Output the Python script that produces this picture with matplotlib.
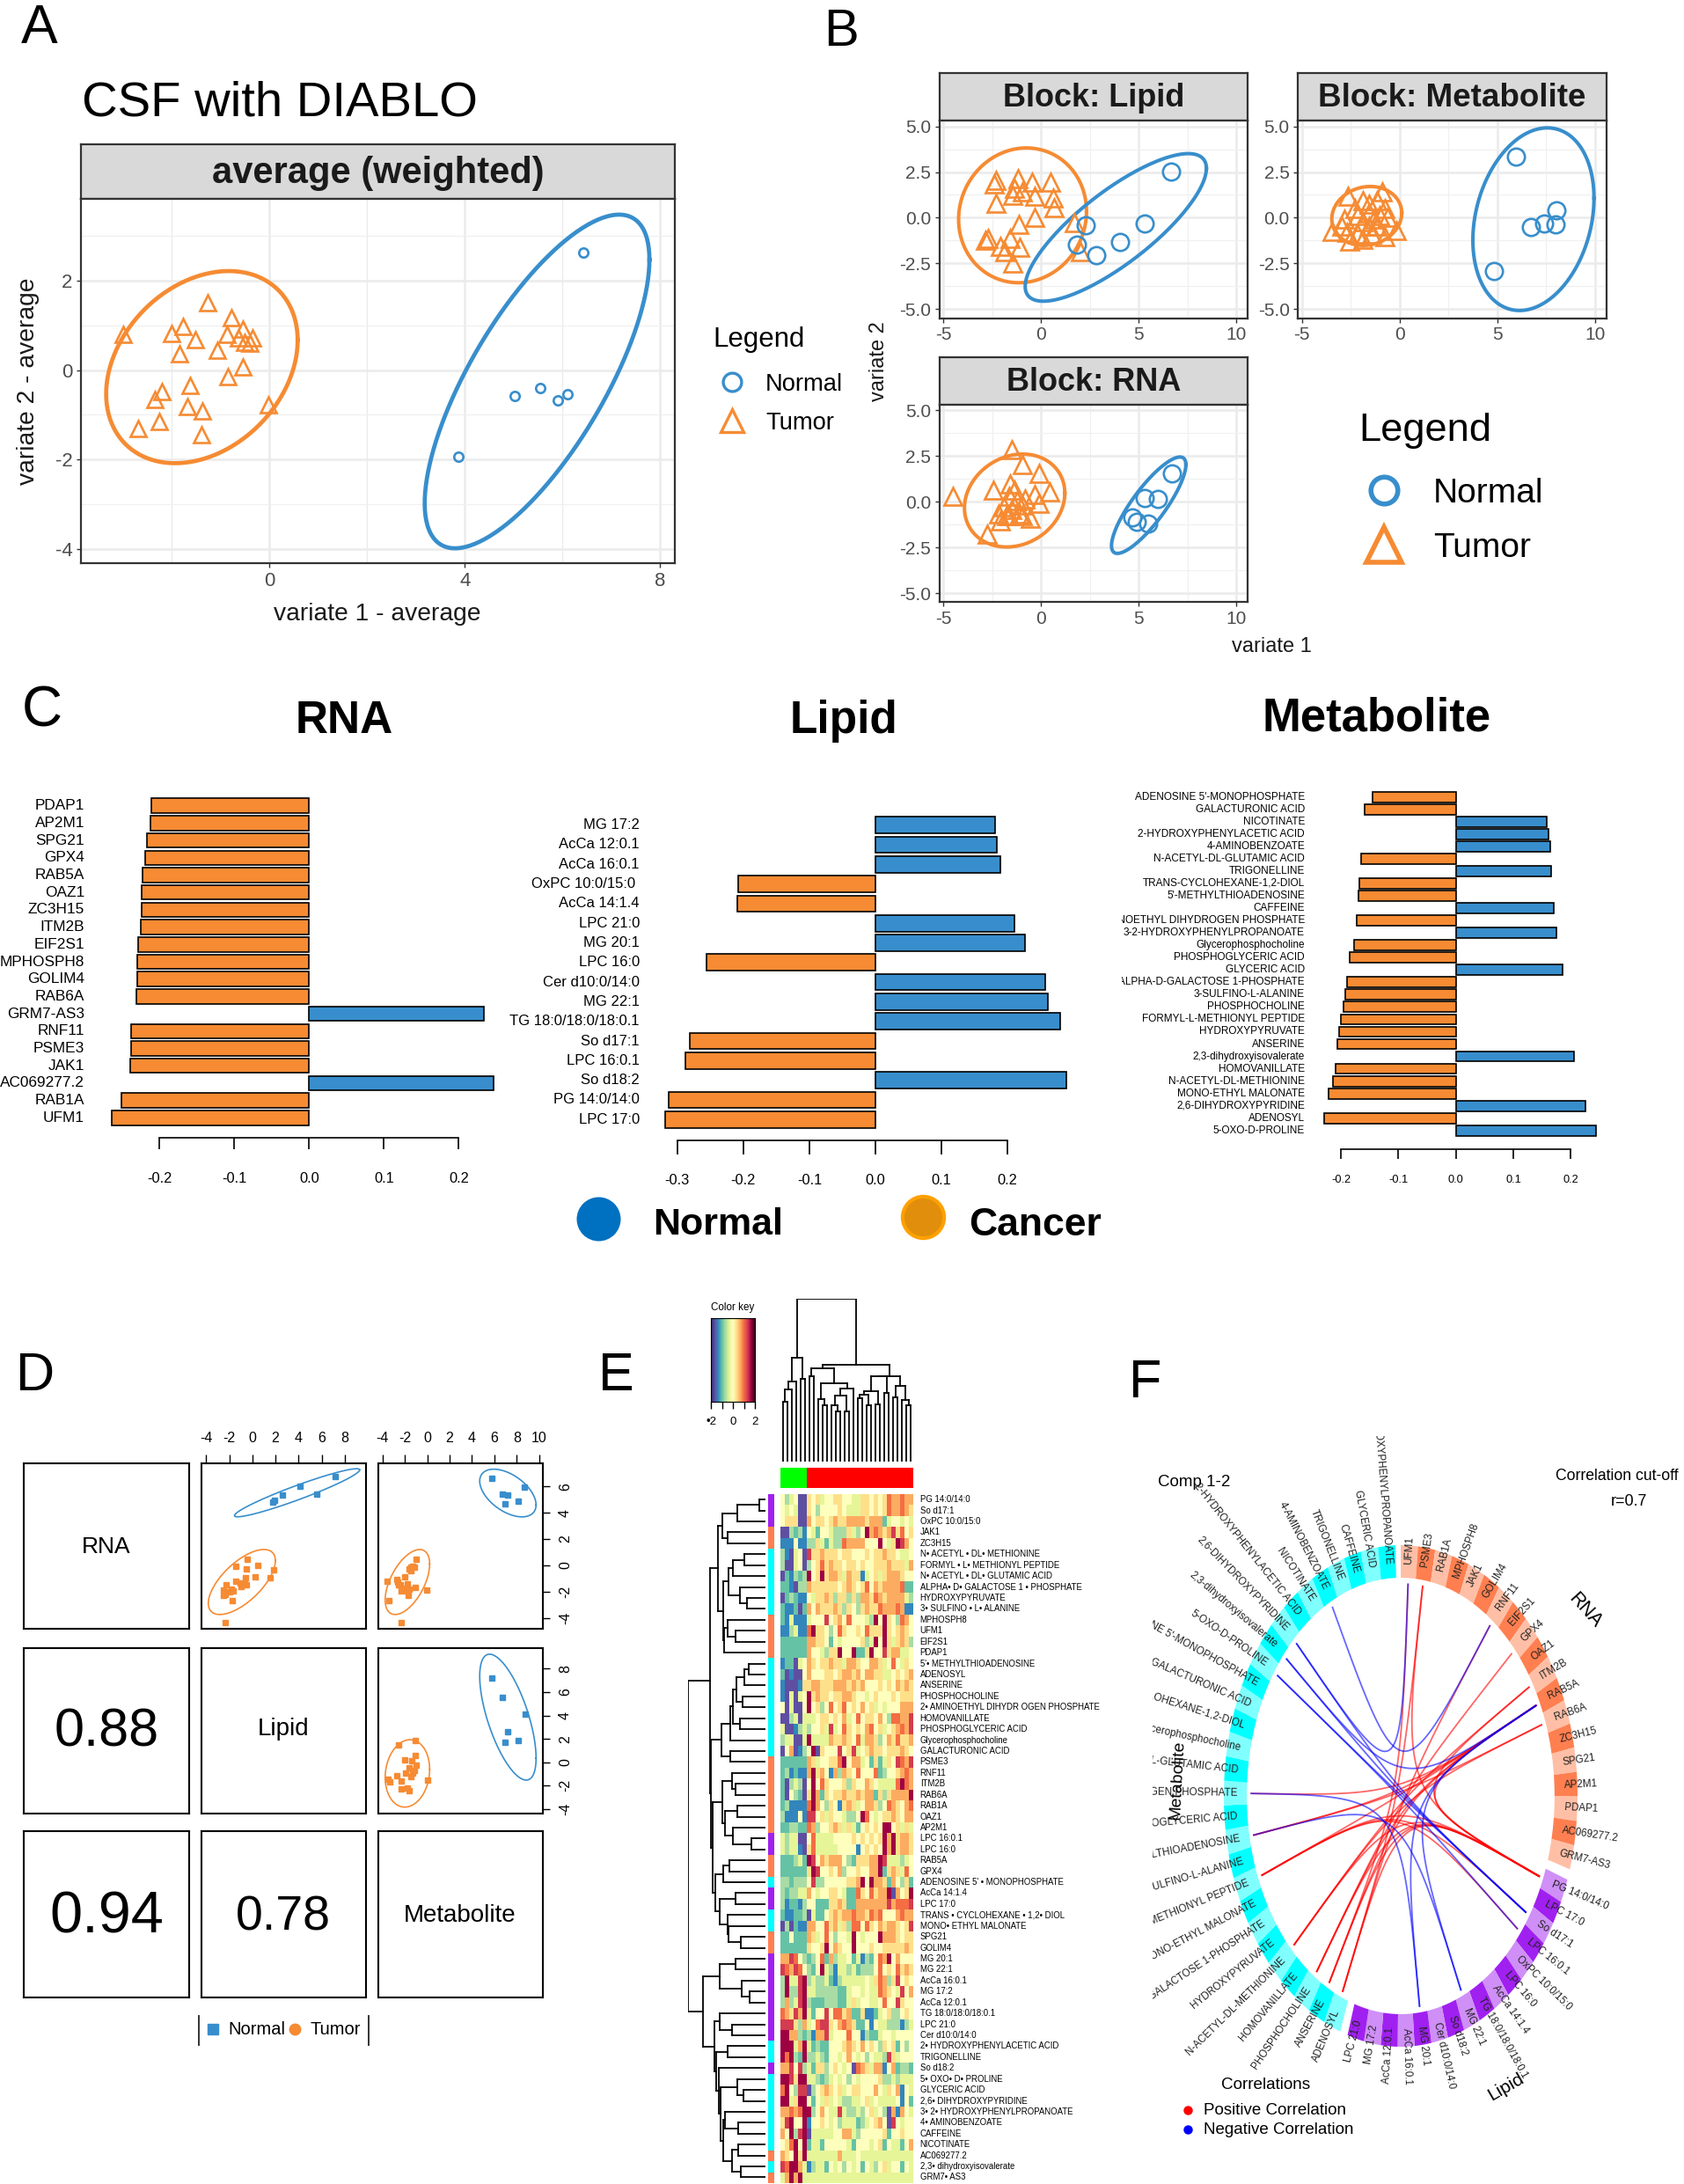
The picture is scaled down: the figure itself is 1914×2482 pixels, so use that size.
import numpy as np
import matplotlib
matplotlib.use("Agg")
import matplotlib.pyplot as plt
from matplotlib.colors import LinearSegmentedColormap, ListedColormap

plt.rcParams['font.family'] = ['Liberation Sans', 'DejaVu Sans']
plt.rcParams['axes.unicode_minus'] = False

W, H = 1915, 2482
BLUE = "#388ECC"
ORANGE = "#F68B33"

# ---------- panel A values
a_tumor_x = [-3.0,-1.27,-0.77,-1.77,-2.0,-1.52,-1.84,-1.07,-0.87,-0.55,-0.63,-0.35,-0.5,-0.39,-0.54,-0.84,-1.62,-2.2,-2.34,-0.02,-1.67,-1.37,-2.25,-2.68,-1.38]
a_tumor_y = [0.79,1.51,1.16,0.97,0.82,0.67,0.37,0.45,0.79,0.91,0.71,0.71,0.61,0.60,0.06,-0.14,-0.34,-0.48,-0.65,-0.78,-0.81,-0.92,-1.15,-1.30,-1.45]
a_normal_x = [6.42,5.02,5.55,5.9,6.1,3.87]
a_normal_y = [2.62,-0.58,-0.40,-0.68,-0.53,-1.94]
a_tumor_ell = (-1.38,0.065,1.96,2.145,0.28)
a_normal_ell = (5.48,-0.255,2.3,3.725,0.73)

# ---------- panel B values
lip_tumor_x = [-2.31,-2.39,-1.17,-0.47,0.5,-1.36,-1.44,-0.94,-0.31,0.64,0.67,-2.31,-0.33,-1.14,-2.72,-2.83,-1.58,-1.08,-2.06,-1.86,-1.47,1.69,2.03]
lip_tumor_y = [2.04,1.85,2.13,1.94,1.94,1.62,1.24,1.43,1.19,1.08,0.56,0.77,0.02,-0.35,-1.15,-1.24,-1.15,-1.62,-1.57,-1.85,-2.5,-0.26,-1.85]
lip_normal_x = [6.64,5.33,4.06,2.28,1.83,2.83]
lip_normal_y = [2.53,-0.30,-1.31,-0.40,-1.48,-2.04]
lip_tumor_ell = (-0.945,0.13,3.275,3.69,0.06)
lip_normal_ell = (3.83,-0.53,4.64,4.04,0.80)

met_tumor_x = [-2.64,-0.89,-1.17,-1.86,-2.28,-1.58,-0.75,-2.83,-2.14,-1.58,-1.03,-0.61,-1.86,-1.31,-0.19,-3.44,-2.69,-2.14,-1.44,-0.75,-2.56,-1.86,-1.17,-1.58,-2.97]
met_tumor_y = [1.19,1.43,0.96,0.96,0.49,0.73,0.49,-0.09,0.14,0.26,0.14,0.02,-0.21,-0.09,-0.68,-0.73,-0.80,-0.91,-0.91,-1.03,-1.26,-1.19,-0.44,-0.44,-0.44]
met_normal_x = [5.94,8.03,7.97,7.39,6.72,4.83]
met_normal_y = [3.33,0.40,-0.35,-0.33,-0.52,-2.93]
met_tumor_ell = (-1.68,0.095,1.79,1.615,0.1)
met_normal_ell = (6.85,-0.08,3.1,5.0,0.23)

rna_tumor_x = [-4.53,-1.5,-0.97,-0.11,0.44,-2.42,-1.58,-1.36,-0.31,-0.11,-0.94,-1.64,-1.92,-1.5,-2.19,-1.78,-1.08,-0.53,-2.06,-2.75,-0.81,-1.22,-1.64,-0.94]
rna_tumor_y = [0.28,2.83,2.04,1.52,0.52,0.63,0.98,0.63,0.40,-0.07,-0.19,0.28,-0.30,-0.42,-0.66,-0.77,-0.66,-0.89,-1.05,-1.76,0.16,0.05,-0.77,-0.77]
rna_normal_x = [6.72,5.31,5.97,4.67,4.89,5.5]
rna_normal_y = [1.55,0.21,0.16,-0.84,-1.10,-1.19]
rna_tumor_ell = (-1.35,0.06,2.57,2.54,0.16)
rna_normal_ell = (5.515,-0.195,1.905,2.635,0.84)

# ---------- panel C values
c_rna_labels = ["PDAP1","AP2M1","SPG21","GPX4","RAB5A","OAZ1","ZC3H15","ITM2B","EIF2S1","MPHOSPH8","GOLIM4","RAB6A","GRM7-AS3","RNF11","PSME3","JAK1","AC069277.2","RAB1A","UFM1"]
c_rna_values = [-.2107,-.212,-.2167,-.219,-.2233,-.2237,-.2242,-.2247,-.2288,-.2293,-.2298,-.2312,.234,-.2386,-.2386,-.2395,.2465,-.2516,-.2642]
c_lip_labels = ["MG 17:2","AcCa 12:0.1","AcCa 16:0.1","OxPC 10:0/15:0 ","AcCa 14:1.4","LPC 21:0","MG 20:1","LPC 16:0","Cer d10:0/14:0","MG 22:1","TG 18:0/18:0/18:0.1","So d17:1","LPC 16:0.1","So d18:2","PG 14:0/14:0","LPC 17:0"]
c_lip_values = [.1807,.1836,.1894,-.2079,-.2096,.2102,.2263,-.2558,.2569,.2615,.2794,-.2812,-.2881,.2893,-.3129,-.3176]
c_met_labels = ["ADENOSINE 5'-MONOPHOSPHATE","GALACTURONIC ACID","NICOTINATE","2-HYDROXYPHENYLACETIC ACID","4-AMINOBENZOATE","N-ACETYL-DL-GLUTAMIC ACID","TRIGONELLINE","TRANS-CYCLOHEXANE-1,2-DIOL","5'-METHYLTHIOADENOSINE","CAFFEINE","2-AMINOETHYL DIHYDROGEN PHOSPHATE","3-2-HYDROXYPHENYLPROPANOATE","Glycerophosphocholine","PHOSPHOGLYCERIC ACID","GLYCERIC ACID","ALPHA-D-GALACTOSE 1-PHOSPHATE","3-SULFINO-L-ALANINE","PHOSPHOCHOLINE","FORMYL-L-METHIONYL PEPTIDE","HYDROXYPYRUVATE","ANSERINE","2,3-dihydroxyisovalerate","HOMOVANILLATE","N-ACETYL-DL-METHIONINE","MONO-ETHYL MALONATE","2,6-DIHYDROXYPYRIDINE","ADENOSYL","5-OXO-D-PROLINE"]
c_met_values = [-.1455,-.158,.159,.161,.164,-.165,.166,-.1675,-.169,.170,-.172,.175,-.1766,-.185,.186,-.19,-.193,-.195,-.2,-.203,-.206,.206,-.209,-.2136,-.221,.226,-.229,.244]

# ---------- panel D values
d_x1_blue = [1.77,1.93,2.61,4.13,5.59,7.2]
d_y1_blue = [4.8,4.92,5.32,6.03,5.42,6.74]
d_x1_or = [-2.39,-2.48,-2.27,-2.33,-1.8,-1.43,-1.09,-1.4,-.47,-.5,-.62,-.71,-.96,-.5,.22,.43,1.55,1.86,-1.74,-2.48,-1.96,-1.65]
d_y1_or = [-4.37,-1.88,-1.51,-2.22,-1.82,-1.2,-1.35,-.06,.49,-.28,-.98,-1.42,-1.6,-1.51,-.89,-.03,-.98,-.37,-2.68,-2.28,-2.03,-1.97]
d_x2_blue = [5.8,6.67,7.21,8.14,6.92,8.69]
d_y2_blue = [6.65,5.42,5.35,4.89,4.65,5.94]
d_x2_or = [-2.28,-3.4,-3.56,-2.63,-2.02,-2.4,-1.76,-1.6,-1.67,-2.31,-1.06,-.06,-1.44,-1.28,-1.12,-.96,-1.6,-1.76,-2.72,-2.56,-1.92,-1.44]
d_y2_or = [-4.37,-2.68,-1.2,-1.29,-.89,-1.51,-1.42,-1.82,-2.28,-1.97,-1.66,-1.91,-.43,-.06,-.12,.49,-.28,-1.97,-1.05,-1.51,-1.72,-.12]
d_x3_blue = [5.8,6.67,8.72,7.21,6.92,8.14]
d_y3_blue = [7.24,5.55,4.14,2.62,1.69,1.86]
d_x3_or = [-2.56,-1.03,-2.02,-1.03,-1.35,-1.6,-.96,-2.72,-3.53,-3.37,0,-2.31,-2.31,-1.6,-1.76,-1.44,-1.92,-1.28,-1.12]
d_y3_or = [1.52,1.86,.21,.55,.14,-.48,-.28,-1.17,-1.41,-1.66,-1.52,-1.59,-2.28,-2.45,-2.21,-1.24,-.9,-.9,-.72]
d_ell1_or = (-.915,-1.275,2.905,2.475,.656)
d_ell1_blue = (3.87,5.52,5.42,1.83,.95)
d_ell2_or = (-1.765,-1.275,1.985,2.475,.55)
d_ell2_blue = (7.2,5.5,2.515,1.815,-.5)
d_ell3_or = (-1.765,-.95,1.985,2.88,.12)
d_ell3_blue = (7.2,3.86,2.515,5.38,-.65)

# ---------- panel E values (letters a..k = -2..2 in 0.4 steps, read by eye)
heat_labels = ["PG 14:0/14:0","So d17:1","OxPC 10:0/15:0","JAK1","ZC3H15","N• ACETYL • DL• METHIONINE","FORMYL • L• METHIONYL PEPTIDE","N• ACETYL • DL• GLUTAMIC ACID","ALPHA• D• GALACTOSE 1 • PHOSPHATE","HYDROXYPYRUVATE","3• SULFINO • L• ALANINE","MPHOSPH8","UFM1","EIF2S1","PDAP1","5'• METHYLTHIOADENOSINE","ADENOSYL","ANSERINE","PHOSPHOCHOLINE","2• AMINOETHYL DIHYDR OGEN PHOSPHATE","HOMOVANILLATE","PHOSPHOGLYCERIC ACID","Glycerophosphocholine","GALACTURONIC ACID","PSME3","RNF11","ITM2B","RAB6A","RAB1A","OAZ1","AP2M1","LPC 16:0.1","LPC 16:0","RAB5A","GPX4","ADENOSINE 5' • MONOPHOSPHATE","AcCa 14:1.4","LPC 17:0","TRANS • CYCLOHEXANE • 1,2• DIOL","MONO• ETHYL MALONATE","SPG21","GOLIM4","MG 20:1","MG 22:1","AcCa 16:0.1","MG 17:2","AcCa 12:0.1","TG 18:0/18:0/18:0.1","LPC 21:0","Cer d10:0/14:0","2• HYDROXYPHENYLACETIC ACID","TRIGONELLINE","So d18:2","5• OXO• D• PROLINE","GLYCERIC ACID","2,6• DIHYDROXYPYRIDINE","3• 2• HYDROXYPHENYLPROPANOATE","4• AMINOBENZOATE","CAFFEINE","NICOTINATE","AC069277.2","2,3• dihydroxyisovalerate","GRM7• AS3"]
heat_rows = [
"fdefaagfgeffggffeeggfgfgihhihh","fefeaagfdffffgfeeeggfgfgihhihg","fgggaahfggfghgghhhhghhhceffefe","aadcdbfecffedddgedfkhihghjgifg",
"bbbfbbddgeceddihhhhfffkfegkjhf","dbaefajgghgggfggfffgfgghggfeef","daaefadfgighggfggfgffggghgggeh","acbdcdkfgkghhgehggbefgeghhhgff",
"ccbaddhggggggfghgfgifhghhhhicc","acdcbbfegghgdggdgdhhgihghhhhed","cbbcachfhggghgdgfdghggihhhihbb","cbebbbefffjfghfifffedkfkgfdihf",
"bbdebbikggfdfigffgfigggkgfghgf","cccccchhggfcfeffffgdekfkgeghgd","cccccchffedggkffkccgkffjghheef","bccaefhgfgghggehhgffhhgefifegf",
"cabaafhfffggfghhghfhhggeefgfgh","baaabgghhggghhhghghfffgfgfhghg","baeaefkghggfgghhgffefgfffgfggg","faeaafkfgdfifgifgfhfgefefffhhh",
"aadeaeeefggfgfhefifggfhfdiihhj","eaabdedffgejefigfgfhifgefghihj","deeaaekeeeehgghgfiehhgdfhgiggh","afhabdfkagfffjfgjefghggfggghgf",
"cccccchgeffggikfhhefcgcegfjihj","cdbcbbhkghfbhdhgfiffficdffghih","cadedafkfigfffgdgffhgfeeeeikih","cafdcagkhcgfgghgghghhcgdghhhhk",
"cdbbbbikhfdgfbghgefhhgdfihgfhi","dbbbfbjjfgegffeddfkifefgghgfhh","ccddccihdffghgegecfgfgfkkfgege","edeeaafieeeeffffgfgfgfgkhkghhg",
"edeebagieeeeeffffbfgfgfkhkghhg","cccdeckjfhghhhfdcggghhkjeeedef","ccccccgkjffgfhdffgffhhkcghgeif","ddcdddfjddfffffgghkfkhhgchfdgc",
"dcddeehfeffggfeccigfighhkahfgk","dbccbdffcccgghgcchhhhhhhjhiiij","cbbccdaeccfghghhihhgihifffhihh","adacbbhhffighegdiifigfhghhgfgj",
"ccfccchgefifdffekfefffkhhhgfgg","ccccccgffgkfhgffkfffgffggggghg","hhjifdcdfichdeefcebdcfihkfhfff","jihjifdcfkedbeedecdddfifgfighg",
"dkeejkdeddecbdeeeeefegihdgjfgf","dkddjkeedddddcceffefeeihgfejfh","dhdejkdcccdddccegeffeefiffjgff","ihgjhkecffjfiighccgbbcefgddfgf",
"jjjgdhefijjgfhihgccfbfeedddbde","kkhhdcdbhhjefffiffbdcceffeffff","kkkehkecdccfffghgfhfgfdgfgcfdf","kikdckddedcffefhfefdfeedjgefff",
"hhjfjdecggdfgfefaihgehhbfhcddc","kkjgkkeedcdefefdfeffffgddedeee","ikfdjjadfghgfgefggfffhfegfhbfe","kkegkkfcfegefeddeefgefeeeefbfc",
"hhihikkdfhfeejeddedfgefdahbhfe","gjkffkbffgfefdeeecdefghfajfeff","hfkdjkaeeeeeffhhedfffffgcffgff","fgikfkceecfffffecfffefgcfeecfh",
"hgfkgkeeeeeeeheeefeeeeeeeeeeee","jikkhebdeecfefdfefcfedfgeffcfe","ehkhkeeeeeeeeeeeeeeeeeeeeeeeee"]
heat_blocks = "LLLRRMMMMMMRRRRMMMMMMMMMRRRRRRRLLRRMLLMMRRLLLLLLLLMMLMMMMMMMRMR"
col_groups = ["Normal"]*6 + ["Tumor"]*24

# column dendrogram, nodes are (left, right, height)
col_a1 = (((0,1,.365),2,.44),3,.493)
col_a = (col_a1,(4,5,.507),.638)
col_b1 = ((8,(9,10,.347),.385),(((11,(12,13,.308),.344),(14,15,.308),.405),16,.45),.48)
col_b2 = ((6,7,.522),col_b1,.57)
col_n1 = ((17,18,.387),(19,20,.347),.41)
col_n2 = (col_n1,(21,22,.351),.433)
col_n3 = (col_n2,(23,24,.423),.522)
col_n4 = ((25,26,.392),(27,(28,29,.347),.378),.464)
col_b3 = (col_n3,col_n4,.525)
col_b = (col_b2,col_b3,.592)
col_tree = (col_a,col_b,1.0)

# row dendrogram
r_a = (((0,1,.075),2,.358),(3,4,.483),.558)
r_b = (((5,6,.27),7,.415),(8,(9,10,.234),.328),.479),((11,(12,13,.389),.483),14,.536),.54
r_top = (r_a,r_b,.615)
r_c1 = (((15,16,.211),17,.272),(18,19,.294),.374)
r_c = (((r_c1,(20,21,.328),.415),22,.453),(23,24,.453),.562)
r_d = ((25,(26,27,.389),.434),((28,29,.366),(30,(31,32,.181),.415),.517),.558)
r_e = (((33,34,.464),35,.54),((36,37,.389),(38,(39,(40,41,.321),.472),.483),.592),.642)
r_f = (r_d,r_e,.679)
r_mid = (r_c,r_f,.70)
r_up = (r_top,r_mid,.717)
r_g = ((42,43,.385),(44,(45,46,.2),.309),.592)
r_h = (47,(48,49,.426),.592)
r_i = ((53,(54,55,.283),.358),((56,(57,58,.351),.517),((59,60,.351),(61,62,.313),.434),.547),.577)
r_j = ((50,51,.49),(52,r_i,.60),.63)
r_k = (r_h,r_j,.653)
r_low = (r_g,r_k,.8)
row_tree = (r_up,r_low,1.0)

# ---------- panel F values
f_rna = ["UFM1","PSME3","RAB1A","MPHOSPH8","JAK1","GOLIM4","RNF11","EIF2S1","GPX4","OAZ1","ITM2B","RAB5A","RAB6A","ZC3H15","SPG21","AP2M1","PDAP1","AC069277.2","GRM7-AS3"]
f_lipid = ["PG 14:0/14:0","LPC 17:0","So d17:1","LPC 16:0.1","OxPC 10:0/15:0","LPC 16:0","AcCa 14:1.4","TG 18:0/18:0/18:0.1","MG 22:1","So d18:2","Cer d10:0/14:0","MG 20:1","AcCa 16:0.1","AcCa 12:0.1","MG 17:2","LPC 21:0"]
f_met = ["ADENOSYL","ANSERINE","PHOSPHOCHOLINE","HOMOVANILLATE","N-ACETYL-DL-METHIONINE","HYDROXYPYRUVATE","ALPHA-D-GALACTOSE 1-PHOSPHATE","MONO-ETHYL MALONATE","FORMYL-L-METHIONYL PEPTIDE","3-SULFINO-L-ALANINE","5'-METHYLTHIOADENOSINE","PHOSPHOGLYCERIC ACID","2-AMINOETHYL DIHYDROGEN PHOSPHATE","N-ACETYL-DL-GLUTAMIC ACID","Glycerophosphocholine","TRANS-CYCLOHEXANE-1,2-DIOL","GALACTURONIC ACID","ADENOSINE 5'-MONOPHOSPHATE","5-OXO-D-PROLINE","2,3-dihydroxyisovalerate","2,6-DIHYDROXYPYRIDINE","2-HYDROXYPHENYLACETIC ACID","NICOTINATE","4-AMINOBENZOATE","TRIGONELLINE","CAFFEINE","GLYCERIC ACID","3-2-HYDROXYPHENYLPROPANOATE"]
f_neg = [("4-AMINOBENZOATE","RNF11"),("2,6-DIHYDROXYPYRIDINE","UFM1"),("2,3-dihydroxyisovalerate","RAB5A"),("2,3-dihydroxyisovalerate","So d17:1"),
         ("5-OXO-D-PROLINE","So d17:1"),("5-OXO-D-PROLINE","LPC 16:0.1"),("2,6-DIHYDROXYPYRIDINE","So d17:1"),("2-AMINOETHYL DIHYDROGEN PHOSPHATE","MG 20:1"),
         ("5'-METHYLTHIOADENOSINE","MG 22:1"),("RAB5A","MG 22:1"),("RAB5A","MG 20:1")]
f_pos = [("ADENOSYL","PSME3"),("ADENOSYL","RNF11"),("ANSERINE","UFM1"),("ANSERINE","RAB5A"),("PHOSPHOCHOLINE","RAB5A"),("PHOSPHOCHOLINE","GPX4"),
         ("N-ACETYL-DL-METHIONINE","RAB6A"),("N-ACETYL-DL-METHIONINE","ITM2B"),("FORMYL-L-METHIONYL PEPTIDE","PG 14:0/14:0"),("FORMYL-L-METHIONYL PEPTIDE","RAB5A"),
         ("2-AMINOETHYL DIHYDROGEN PHOSPHATE","RAB5A"),("5'-METHYLTHIOADENOSINE","RAB6A"),("5'-METHYLTHIOADENOSINE","RAB5A"),("So d17:1","FORMYL-L-METHIONYL PEPTIDE"),
         ("LPC 16:0.1","FORMYL-L-METHIONYL PEPTIDE"),("PG 14:0/14:0","N-ACETYL-DL-METHIONINE"),("PG 14:0/14:0","RAB5A"),("PG 14:0/14:0","ITM2B"),
         ("PG 14:0/14:0","ADENOSYL"),("PG 14:0/14:0","PHOSPHOCHOLINE"),("PG 14:0/14:0","ANSERINE"),("PG 14:0/14:0","PSME3")]


fig = plt.figure(figsize=(W/100, H/100), dpi=100, facecolor="white")


def px_ax(l, t, r, b, **kw):
    return fig.add_axes([l/W, 1-b/H, (r-l)/W, (b-t)/H], **kw)


def ell_xy(e):
    cx, cy, rx, ry, rho = e
    t = np.linspace(0, 2*np.pi, 240)
    return cx + rx*np.cos(t), cy + ry*np.cos(t - np.arccos(rho))


ov = px_ax(0, 0, W, H, zorder=20)
ov.set_xlim(0, W)
ov.set_ylim(H, 0)
ov.axis("off")


def txt(x, y, s, size, **kw):
    kw.setdefault("ha", "center")
    kw.setdefault("va", "center")
    # bbox centring sits a little high against the reference, more so for big text
    if "rotation" not in kw:
        y = y + 1.5 + size*.09
    ov.text(x, y, s, fontsize=size, **kw)


def facet(box, strip_top, title, tsize, xlim, ylim, xmaj, xmin, ymaj, ymin, ylabs, tick_size):
    l, t, r, b = box
    st = px_ax(l, strip_top, r, t, facecolor="#d9d9d9")
    st.set_xticks([])
    st.set_yticks([])
    st.text(.5, .47, title, fontsize=tsize, fontweight="bold", color="#1a1a1a", ha="center", va="center", transform=st.transAxes)
    ax = px_ax(l, t, r, b)
    ax.set_xlim(xlim)
    ax.set_ylim(ylim)
    ax.set_xticks(xmaj)
    ax.set_xticks(xmin, minor=True)
    ax.set_yticks(ymaj)
    ax.set_yticks(ymin, minor=True)
    ax.set_yticklabels(ylabs)
    ax.grid(which="major", color="#ebebeb", lw=1.8)
    ax.grid(which="minor", color="#f0f0f0", lw=.9)
    ax.set_axisbelow(True)
    ax.tick_params(which="minor", length=0)
    ax.tick_params(which="major", length=3.5, width=1, color="#333333", labelsize=tick_size, labelcolor="#4d4d4d", pad=3.5)
    for a in (st, ax):
        for s in a.spines.values():
            s.set_color("#333333")
            s.set_linewidth(1.6)
    return ax


def scat(ax, tx, ty, nx, ny, te, ne, tms, nms, lw):
    ax.plot(*ell_xy(te), color=ORANGE, lw=lw)
    ax.plot(*ell_xy(ne), color=BLUE, lw=lw)
    ax.plot(tx, ty, "^", mfc="none", mec=ORANGE, mew=1.9, ms=tms, ls="none")
    ax.plot(nx, ny, "o", mfc="none", mec=BLUE, mew=1.9, ms=nms, ls="none")


# panel A
ax = facet((92, 225.6, 767, 640.4), 163.8, "average (weighted)", 30, (-3.856, 8.3), (-4.32, 3.83),
           [0, 4, 8], [-2, 2, 6], [-4, -2, 0, 2], [-3, -1, 1, 3], ["-4", "-2", "0", "2"], 16)
ax.grid(which="minor", axis="x", color="#ebebeb", lw=1)
scat(ax, a_tumor_x, a_tumor_y, a_normal_x, a_normal_y, a_tumor_ell, a_normal_ell, 13, 7.5, 3.4)
txt(45, 27, "A", 45)
txt(93, 112, "CSF with DIABLO", 40.5, ha="left")
txt(429, 695, "variate 1 - average", 20.3, color="#1a1a1a")
txt(32, 433, "variate 2 - average", 20.3, rotation=90, color="#1a1a1a")
txt(810, 382, "Legend", 22.5, ha="left")
txt(870, 434, "Normal", 19.7, ha="left")
txt(870, 478, "Tumor", 19.7, ha="left")
ov.plot([832], [434], "o", mfc="none", mec=BLUE, mew=2.4, ms=15)
ov.plot([832], [478], "^", mfc="none", mec=ORANGE, mew=2.4, ms=19)

# panel B
bx_lab = ["5.0", "2.5", "0.0", "-2.5", "-5.0"]
b_ymaj = [5, 2.5, 0, -2.5, -5]
b_ymin = [3.75, 1.25, -1.25, -3.75]
b_xlim = (-5.19, 10.58)
b_ylim = (-5.5, 5.32)
ax = facet((1068, 137, 1418, 361.6), 82.9, "Block: Lipid", 26, b_xlim, b_ylim, [-5, 0, 5, 10], [-2.5, 2.5, 7.5], b_ymaj, b_ymin, bx_lab, 15)
scat(ax, lip_tumor_x, lip_tumor_y, lip_normal_x, lip_normal_y, lip_tumor_ell, lip_normal_ell, 15, 14, 2.9)
ax = facet((1475.5, 137, 1825.7, 361.6), 82.9, "Block: Metabolite", 26.5, b_xlim, b_ylim, [-5, 0, 5, 10], [-2.5, 2.5, 7.5], b_ymaj, b_ymin, bx_lab, 15)
scat(ax, met_tumor_x, met_tumor_y, met_normal_x, met_normal_y, met_tumor_ell, met_normal_ell, 15, 14, 2.9)
ax = facet((1068, 459.5, 1418, 684.4), 406, "Block: RNA", 26, b_xlim, b_ylim, [-5, 0, 5, 10], [-2.5, 2.5, 7.5], b_ymaj, b_ymin, bx_lab, 15)
scat(ax, rna_tumor_x, rna_tumor_y, rna_normal_x, rna_normal_y, rna_tumor_ell, rna_normal_ell, 15, 14, 2.9)
txt(956, 31, "B", 43)
txt(999, 411, "variate 2", 17, rotation=90, color="#1a1a1a")
txt(1445.6, 732, "variate 1", 17, color="#1a1a1a")
txt(1544, 485, "Legend", 32.6, ha="left")
txt(1629, 557, "Normal", 28, ha="left")
txt(1629, 619, "Tumor", 28, ha="left")
ov.plot([1573], [557], "o", mfc="none", mec=BLUE, mew=4, ms=22)
ov.plot([1573], [619], "^", mfc="none", mec=ORANGE, mew=4, ms=29)


# panel C
def bars(box, x0, scale, y0, dy, labels, values, lab_px, ticks, fsize, tsize, tick_len, pad, edge):
    l, t, r, b = box
    ax = px_ax(l, t, r, b, facecolor="none")
    ax.set_xlim((l-x0)/scale, (r-x0)/scale)
    ax.set_ylim((b-y0)/dy, (t-y0)/dy)
    ypos = np.arange(len(values))
    cols = [BLUE if v > 0 else ORANGE for v in values]
    ax.barh(ypos, values, height=.84, color=cols, edgecolor="black", linewidth=edge)
    for i, lab in enumerate(labels):
        ax.text((lab_px-x0)/scale, i, lab, fontsize=fsize, ha="right", va="center", clip_on=True)
    for s in ("top", "left", "right"):
        ax.spines[s].set_visible(False)
    ax.spines["bottom"].set_bounds(ticks[0], ticks[-1])
    ax.spines["bottom"].set_linewidth(1.2)
    ax.set_yticks([])
    ax.set_xticks(ticks)
    ax.set_xticklabels(["%.1f" % v for v in ticks])
    ax.tick_params(axis="x", length=tick_len, width=1.2, labelsize=tsize, pad=pad)


bars((0, 900, 620, 1293), 351.4, 850, 915.7, 19.7, c_rna_labels, c_rna_values, 96, [-.2, -.1, 0, .1, .2], 12.4, 11.8, 9.4, 19, 1.2)
bars((560, 920, 1270, 1295.7), 995, 751, 937.7, 22.3, c_lip_labels, c_lip_values, 727, [-.3, -.2, -.1, 0, .1, .2], 12, 11.8, 11.5, 16, 1.2)
bars((1275.4, 895, 1915, 1306), 1654.6, 653, 905.7, 14.04, c_met_labels, c_met_values, 1483, [-.2, -.1, 0, .1, .2], 8.5, 9.2, 7.7, 13, 1.2)
txt(48, 803, "C", 46)
txt(391, 815, "RNA", 37, fontweight="bold")
txt(959, 815, "Lipid", 37, fontweight="bold")
txt(1565, 812, "Metabolite", 38, fontweight="bold")
ov.plot([679.6], [1385], "o", color="#0070C0", ms=36, mew=0)
ov.plot([1049], [1383], "o", mfc="#E08E0B", mec="#FFA000", mew=3, ms=34)
txt(742, 1388, "Normal", 31, fontweight="bold", ha="left")
txt(1101, 1388, "Cancer", 32, fontweight="bold", ha="left")


# panel D
d_cols = [(27.3, 215), (229, 416), (430, 617)]
d_rows = [(1662.7, 1850.5), (1873, 2061), (2081, 2269.7)]
d_axes = {}
for ri, (t, b) in enumerate(d_rows):
    for ci, (l, r) in enumerate(d_cols):
        a = px_ax(l, t, r, b)
        a.set_xticks([])
        a.set_yticks([])
        for s in a.spines.values():
            s.set_linewidth(1.5)
        d_axes[(ri, ci)] = a
d_sets = [((0, 1), d_x1_blue, d_y1_blue, d_x1_or, d_y1_or, d_ell1_blue, d_ell1_or, (-4.41, 9.84), (-4.8, 7.78)),
          ((0, 2), d_x2_blue, d_y2_blue, d_x2_or, d_y2_or, d_ell2_blue, d_ell2_or, (-4.36, 10.32), (-4.8, 7.78)),
          ((1, 2), d_x3_blue, d_y3_blue, d_x3_or, d_y3_or, d_ell3_blue, d_ell3_or, (-4.36, 10.32), (-4.38, 9.76))]
for key, xb, yb, xo, yo, eb, eo, xl, yl in d_sets:
    a = d_axes[key]
    a.plot(*ell_xy(eb), color=BLUE, lw=1.2)
    a.plot(*ell_xy(eo), color=ORANGE, lw=1.2)
    a.plot(xb, yb, "s", color=BLUE, ms=3.8, ls="none", clip_on=False)
    a.plot(xo, yo, "s", color=ORANGE, ms=3.8, ls="none", clip_on=False)
    a.set_xlim(xl)
    a.set_ylim(yl)
    if key[0] == 0:
        a.xaxis.tick_top()
        a.set_xticks([-4, -2, 0, 2, 4, 6, 8] if key[1] == 1 else [-4, -2, 0, 2, 4, 6, 8, 10])
        a.tick_params(axis="x", length=7, width=1, labelsize=11.5, pad=8)
    if key[1] == 2:
        a.yaxis.tick_right()
        a.set_yticks([-4, -2, 0, 2, 4, 6] if key[0] == 0 else [-4, -2, 0, 2, 4, 6, 8])
        a.tick_params(axis="y", length=6, width=1, labelsize=11.5, pad=7, labelrotation=90)
        for lb in a.get_yticklabels():
            lb.set_va("center")
txt(40, 1559, "D", 44)
txt(121, 1755, "RNA", 19, color="black")
txt(322, 1962, "Lipid", 20)
txt(523, 2174, "Metabolite", 20)
txt(121, 1964, "0.88", 44)
txt(121, 2174, "0.94", 48)
txt(322, 2174, "0.78", 40)
ov.plot([225.7, 225.7], [2291, 2324], color="#333333", lw=1.4)
ov.plot([419, 419], [2291, 2324], color="#333333", lw=1.4)
ov.plot([242.4], [2306], "s", color=BLUE, ms=8)
ov.plot([335], [2306], "o", color=ORANGE, ms=9)
txt(259, 2304, "Normal", 14.5, ha="left")
txt(352.6, 2304, "Tumor", 14.5, ha="left")

# panel E
letters = "abcdefghijk"
heat_vals = np.array([[(letters.index(c)-5)*.4 for c in r[:30].ljust(30, "f")] for r in heat_rows])
ax = px_ax(887, 1698, 1037.7, 2480.7)
ax.imshow(heat_vals, cmap="Spectral_r", vmin=-2, vmax=2, aspect="auto", interpolation="nearest")
ax.axis("off")
for i, lab in enumerate(heat_labels):
    ax.text(31.1, i, lab, fontsize=6.9, ha="left", va="center", clip_on=False)

ax = px_ax(887, 1668, 1037.7, 1690.7)
ax.imshow([[0 if g == "Normal" else 1 for g in col_groups]], cmap=ListedColormap(["#00ff00", "#ff0000"]), aspect="auto", interpolation="nearest")
ax.axis("off")

block_idx = {"L": 0, "M": 1, "R": 2}
ax = px_ax(873, 1698, 879.5, 2480.7)
ax.imshow([[block_idx[b]] for b in heat_blocks], cmap=ListedColormap(["#A020F0", "#00FFFF", "#FF7F50"]), aspect="auto", interpolation="nearest")
ax.axis("off")


def dend(node, segs):
    if not isinstance(node, tuple):
        return float(node), 0.0
    lp, lh = dend(node[0], segs)
    rp, rh = dend(node[1], segs)
    h = node[2]
    segs.append((lp, lh, lp, h))
    segs.append((rp, rh, rp, h))
    segs.append((lp, h, rp, h))
    return (lp+rp)/2, h


segs = []
dend(col_tree, segs)
ax = px_ax(887, 1475.7, 1037.7, 1661)
for p0, h0, p1, h1 in segs:
    ax.plot([p0, p1], [h0, h1], color="black", lw=1.3, solid_capstyle="projecting")
ax.set_xlim(-.5, 29.5)
ax.set_ylim(0, 1)
ax.axis("off")

segs = []
dend(row_tree, segs)
ax = px_ax(781.7, 1698, 870, 2480.7)
for p0, h0, p1, h1 in segs:
    ax.plot([h0, h1], [p0, p1], color="black", lw=1.3, solid_capstyle="projecting")
ax.set_ylim(62.5, -.5)
ax.set_xlim(1, 0)
ax.axis("off")

key_cmap = LinearSegmentedColormap.from_list("key", ["#2a2a6e", "#5e4fa2", "#3288bd", "#66c2a5", "#abdda4", "#e6f598", "#ffffbf", "#fee08b", "#fdae61", "#f46d43", "#d53e4f", "#9e0142", "#3a0020"])
ax = px_ax(808.3, 1498, 858, 1593)
ax.imshow([np.linspace(-2, 2, 256)], cmap=key_cmap, aspect="auto", extent=(-2, 2, 0, 1))
ax.set_yticks([])
ax.set_xticks([-2, -1, 0, 1, 2])
ax.set_xticklabels(["•2", "", "0", "", "2"])
ax.tick_params(axis="x", length=5.5, width=1, labelsize=9.5, pad=7)
txt(832.7, 1484, "Color key", 8.4)
txt(700, 1559, "E", 44)

# panel F
ax_f = px_ax(1310, 1632, 1915, 2482, facecolor="none", zorder=5)
ax_f.set_xlim(-1.403, 1.607)
ax_f.set_ylim((2041-2482)/285, (2041-1632)/285)
ax_f.axis("off")
f_blocks = [(f_rna, 90, -17, "#FF7F50", "#FFBFA6"),
            (f_lipid, -19.5, -107.5, "#A020F0", "#CF8FF7"),
            (f_met, -110, -268.3, "#00FFFF", "#80FFFF")]
f_angle = {}
for names, start, end, dark, light in f_blocks:
    step = (end-start)/len(names)
    for i, name in enumerate(names):
        a0, a1 = start+i*step, start+(i+1)*step
        tt = np.radians(np.linspace(a0, a1, 12))
        xs = np.r_[np.cos(tt), .87*np.cos(tt[::-1])]
        ys = np.r_[np.sin(tt), .87*np.sin(tt[::-1])]
        col = light if i % 2 == 0 else dark
        ax_f.fill(xs, ys, color=col, lw=0, zorder=1)
        mid = (a0+a1)/2
        f_angle[name] = mid
        rad = np.radians(mid)
        c = np.cos(rad)
        if c >= 0:
            ax_f.text(.925*c, .925*np.sin(rad), name, fontsize=8.4, rotation=mid, rotation_mode="anchor", ha="left", va="center", clip_on=True, color="#222222", zorder=3)
        else:
            ax_f.text(.925*c, .925*np.sin(rad), name, fontsize=8.4, rotation=mid+180, rotation_mode="anchor", ha="right", va="center", clip_on=True, color="#222222", zorder=3)


def link(a, b, col):
    ra, rb = np.radians(f_angle[a]), np.radians(f_angle[b])
    s = np.linspace(0, 1, 80)
    # both control points at the centre, so the ribbons bunch up in the middle
    x = (1-s)**3*.845*np.cos(ra) + s**3*.845*np.cos(rb)
    y = (1-s)**3*.845*np.sin(ra) + s**3*.845*np.sin(rb)
    ax_f.plot(x, y, color=col, lw=1.3, alpha=.6, zorder=2)


for a, b in f_pos:
    link(a, b, "#ff0000")
for a, b in f_neg:
    link(a, b, "#0000ff")

txt(1302, 1567, "F", 44)
txt(1316.5, 1682, "Comp 1-2", 13.5, ha="left")
txt(1838, 1675, "Correlation cut-off", 12.7)
txt(1851, 1704, "r=0.7", 13)
txt(1802, 1830, "RNA", 15.5, rotation=-48)
txt(1338, 2023, "Metabolite", 14, rotation=87)
txt(1712, 2372, "Lipid", 15, rotation=30)
txt(1438.7, 2367, "Correlations", 13.6)
txt(1368, 2396, "Positive Correlation", 13.5, ha="left")
txt(1368, 2418, "Negative Correlation", 13.5, ha="left")
ov.plot([1350], [2398], "o", color="#ff0000", ms=6.5)
ov.plot([1350], [2420], "o", color="#0000ff", ms=6.5)

fig.savefig("out.png", dpi=100, facecolor="white")
